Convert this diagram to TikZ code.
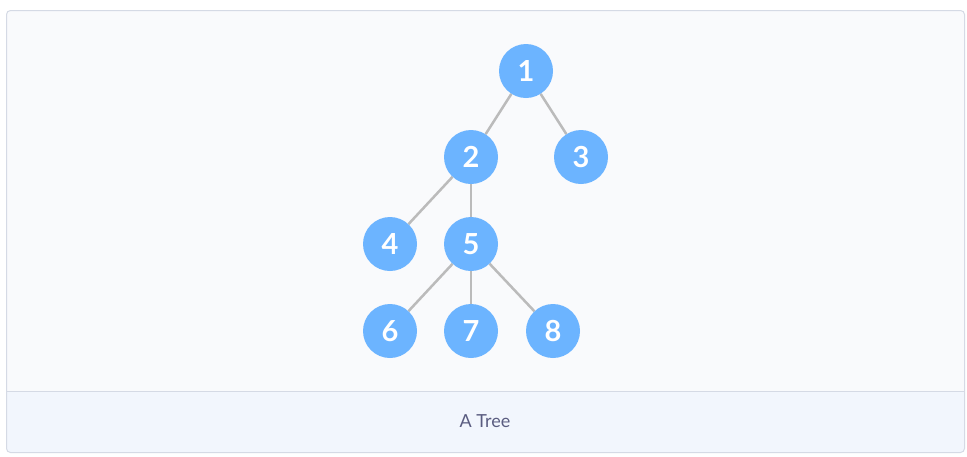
\documentclass[tikz,border=0pt]{standalone}
\usepackage{fontspec}
\setmainfont{Lato}
\usepackage{xcolor}
\usetikzlibrary{calc}

\definecolor{nodeblue}{HTML}{6CB4FF}
\definecolor{edgegray}{HTML}{BBBBBB}
\definecolor{bodybg}{HTML}{F9FAFC}
\definecolor{capbg}{HTML}{F2F6FD}
\definecolor{framecol}{HTML}{D5DAE5}
\definecolor{captext}{HTML}{5A5C80}

\tikzset{
    treenode/.style={circle,fill=nodeblue,text=white,minimum size=54pt,inner sep=0pt,
        font=\fontsize{29}{29}\selectfont\bfseries},
    treeedge/.style={draw=edgegray,line width=2.5pt}
}

\begin{document}
\begin{tikzpicture}[x=1pt,y=-1pt]
        % Bounding box of the whole picture:
        \useasboundingbox (0,0) rectangle (967,456);
        \fill [white] (0,0) rectangle (967,456);

        % Frame:
        % The caption part is filled first, then the body with its top corners rounded
        \fill [capbg,rounded corners=4pt] (6.5,10.5) rectangle (964.5,452.5);
        \fill [bodybg,rounded corners=4pt] (6.5,391) -- (6.5,10.5) -- (964.5,10.5) -- (964.5,391);
        \draw [framecol,line width=1pt] (6.5,391) -- (964.5,391);
        \draw [framecol,line width=1pt,rounded corners=4pt] (6.5,10.5) rectangle (964.5,452.5);

        % Nodes of the tree:
        \node [treenode] (n1) at (526,71)  {1};
        \node [treenode] (n2) at (471,157) {2};
        \node [treenode] (n3) at (581,157) {3};
        \node [treenode] (n4) at (390,244) {4};
        \node [treenode] (n5) at (471,244) {5};
        \node [treenode] (n6) at (390,331) {6};
        \node [treenode] (n7) at (471,331) {7};
        \node [treenode] (n8) at (553,331) {8};

        % Edges:
        % Drawn between the borders of the nodes
        \foreach \a/\b in {n1/n2,n1/n3,n2/n4,n2/n5,n5/n6,n5/n7,n5/n8}{%
            \draw [treeedge] (\a) -- (\b);
        }

        % Caption:
        \node [text=captext,font=\fontsize{18}{18}\selectfont] (caption) at (485,421) {A Tree};
    \end{tikzpicture}
\end{document}
